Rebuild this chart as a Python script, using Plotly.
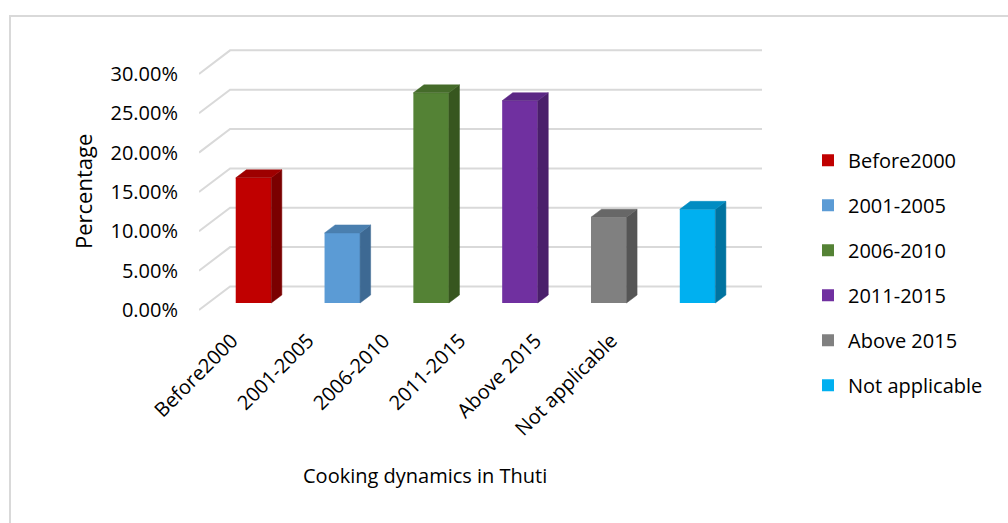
import numpy as np
import plotly.graph_objects as go

categories = ["Before2000", "2001-2005", "2006-2010", "2011-2015", "Above 2015", "Not applicable"]
values = [15.9, 8.9, 26.7, 25.7, 10.9, 11.9]  # percent
front_colors = ["#C00000", "#5B9BD5", "#548235", "#7030A0", "#808080", "#00B0F0"]
side_colors = ["#7A0000", "#3D6993", "#37561F", "#4A1F6B", "#555555", "#0073A0"]
top_colors = ["#9E0000", "#4A7FAF", "#456B2A", "#5B2785", "#676767", "#008CC2"]
y_ticks = [0, 5, 10, 15, 20, 25, 30]
y_ticktext = [f"{v:.2f}%" for v in y_ticks]

# 3D geometry (data units)
BAR_W = 0.40
DX = 0.35      # full wall depth, x units
DY = 2.99      # full wall depth, y units (percent)
F0 = 0.298     # depth of bar front face
D = 0.34       # bar depth fraction
X_LEFT = -0.6136
X_RIGHT = 5.7255

font = "Open Sans"
fs = 20

fig = go.Figure()

for i, (c, v) in enumerate(zip(categories, values)):
    fig.add_trace(go.Bar(
        x=[i], y=[v], base=0, width=BAR_W, name=c,
        marker=dict(color=front_colors[i], line=dict(width=0)),
        legendgroup=c,
    ))

for i, v in enumerate(values):
    w = BAR_W / 2
    sx = [i + w, i + w + D * DX, i + w + D * DX, i + w, i + w]
    sy = [0, D * DY, v + D * DY, v, 0]
    fig.add_trace(go.Scatter(x=sx, y=sy, fill="toself", mode="lines",
                             fillcolor=side_colors[i],
                             line=dict(color=side_colors[i], width=0.5),
                             showlegend=False, hoverinfo="skip"))
    tx = [i - w, i + w, i + w + D * DX, i - w + D * DX, i - w]
    ty = [v, v, v + D * DY, v + D * DY, v]
    fig.add_trace(go.Scatter(x=tx, y=ty, fill="toself", mode="lines",
                             fillcolor=top_colors[i],
                             line=dict(color=top_colors[i], width=0.5),
                             showlegend=False, hoverinfo="skip"))

shapes = []
for v in y_ticks:
    yf = v - F0 * DY
    yb = yf + DY
    shapes.append(dict(
        type="path", xref="x", yref="y", layer="below",
        path=f"M {X_LEFT},{yf} L {X_LEFT + DX},{yb} L {X_RIGHT},{yb}",
        line=dict(color="#D9D9D9", width=2),
    ))
# chart border
shapes.append(dict(type="rect", xref="paper", yref="paper",
                   x0=-0.3357, x1=1.45, y0=-0.80, y1=1.1074,
                   line=dict(color="#D9D9D9", width=2), layer="below"))

label_pos = [(232 - 253.3) / 88.5 + k * 75.6 / 88.5 for k in range(len(categories))]

fig.update_layout(
    width=1008, height=523,
    margin=dict(l=199, r=246, t=45, b=208),
    paper_bgcolor="white", plot_bgcolor="white",
    font=dict(family=font, size=fs, color="#000000"),
    barmode="overlay",
    shapes=shapes,
    showlegend=True,
    legend=dict(x=1.0817, y=0.645, xanchor="left", yanchor="top",
                font=dict(family=font, size=fs), tracegroupgap=16,
                maxheight=600, bgcolor="rgba(0,0,0,0)"),
    xaxis=dict(range=[X_LEFT, X_RIGHT], showgrid=False, zeroline=False,
               showline=False, tickmode="array", tickvals=label_pos,
               ticktext=categories, tickangle=-45, ticks="",
               ticklabelstandoff=9, fixedrange=True),
    yaxis=dict(range=[-1.525, 32.78], showgrid=False, zeroline=False,
               showline=False, tickmode="array",
               tickvals=[v - F0 * DY for v in y_ticks], ticktext=y_ticktext,
               ticks="", ticklabelstandoff=20, fixedrange=True),
    annotations=[
        dict(text="Percentage", xref="paper", yref="paper", x=-0.206, y=0.4556,
             textangle=-90, showarrow=False, font=dict(family=font, size=22),
             xanchor="center", yanchor="middle"),
        dict(text="Cooking dynamics in Thuti", xref="paper", yref="paper",
             x=0.401, y=-0.596, showarrow=False, font=dict(family=font, size=fs),
             xanchor="center", yanchor="middle"),
    ],
)

fig.write_html("out.html", config={"displayModeBar": False},
               post_script="document.body.style.margin='0';")
